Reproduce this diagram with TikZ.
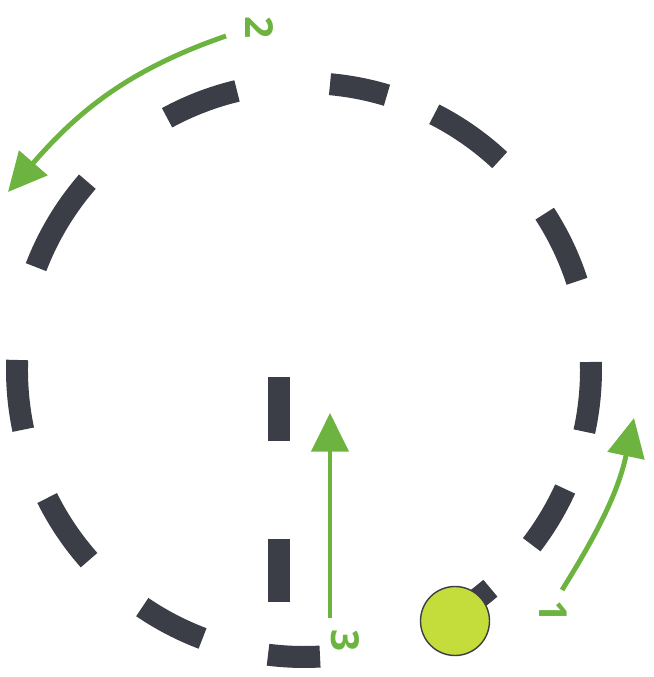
\documentclass[tikz,border=0pt]{standalone}
\usepackage{fontspec}
\setsansfont{Open Sans}
\usepackage{xcolor}
\usepackage{tikz}
\usetikzlibrary{arrows.meta}
\usetikzlibrary{positioning}

\definecolor{pathgray}{HTML}{3B3E46}
\definecolor{arrowgreen}{HTML}{6DB33F}
\definecolor{ballyellow}{HTML}{C5DD3A}

\begin{document}
\begin{tikzpicture}[
  seg/.style={draw=pathgray,line width=12.5pt},
  move/.style={draw=arrowgreen,line width=2.8pt,-{Triangle[width=21pt,length=22pt]}},
  num/.style={text=arrowgreen,font=\sffamily\bfseries\fontsize{22}{24}\selectfont,rotate=-90,inner sep=0pt}]
\useasboundingbox (0,0) rectangle (13.08,13.54);
\coordinate (c) at (6.08,6.14);
% dashed ring
\draw[seg] ([shift={(73.2:5.74)}]c) arc[start angle=73.2,end angle=84.8,radius=5.74];
\draw[seg] ([shift={(103.5:5.74)}]c) arc[start angle=103.5,end angle=118.5,radius=5.74];
\draw[seg] ([shift={(47:5.74)}]c) arc[start angle=47,end angle=63,radius=5.74];
\draw[seg] ([shift={(139:5.74)}]c) arc[start angle=139,end angle=159,radius=5.74];
\draw[seg] ([shift={(18:5.74)}]c) arc[start angle=18,end angle=33,radius=5.74];
\draw[seg] ([shift={(178:5.74)}]c) arc[start angle=178,end angle=192,radius=5.74];
\draw[seg] ([shift={(-12.4:5.74)}]c) arc[start angle=-12.4,end angle=1.6,radius=5.74];
\draw[seg] ([shift={(206.5:5.74)}]c) arc[start angle=206.5,end angle=221.5,radius=5.74];
\draw[seg] ([shift={(-37.5:5.74)}]c) arc[start angle=-37.5,end angle=-24.5,radius=5.74];
\draw[seg] ([shift={(235.7:5.74)}]c) arc[start angle=235.7,end angle=249.3,radius=5.74];
\draw[seg] ([shift={(262.8:5.74)}]c) arc[start angle=262.8,end angle=273.2,radius=5.74];
\draw[seg] ([shift={(-58:5.74)}]c) arc[start angle=-58,end angle=-49.5,radius=5.74];
% middle line
\coordinate (m1) at (5.58,6.00);
\coordinate (m2) at (5.58,4.72);
\coordinate (m3) at (5.58,2.76);
\coordinate (m4) at (5.58,1.50);
\draw[seg] (m1) -- (m2);
\draw[seg] (m3) -- (m4);
% ball
\node[circle,draw=pathgray,line width=0.8pt,fill=ballyellow,minimum size=1.38cm] (ball) at (9.10,1.12) {};
% arrows
\coordinate (s1) at (11.24,1.74);
\coordinate (e1) at (12.68,5.18);
\coordinate (s2) at (4.52,12.82);
\coordinate (e2) at (0.16,9.70);
\coordinate (s3) at (6.60,1.18);
\coordinate (e3) at (6.60,5.28);
\draw[move] (s1) to[out=58,in=-102] (e1);
\draw[move] (s2) to[out=199,in=49] (e2);
\draw[move] (s3) -- (e3);
% labels
\node[num] (n1) at (11.06,1.30) {1};
\node[num] (n2) at (5.18,12.98) {2};
\node[num] (n3) at (6.90,0.72) {3};
\end{tikzpicture}
\end{document}
